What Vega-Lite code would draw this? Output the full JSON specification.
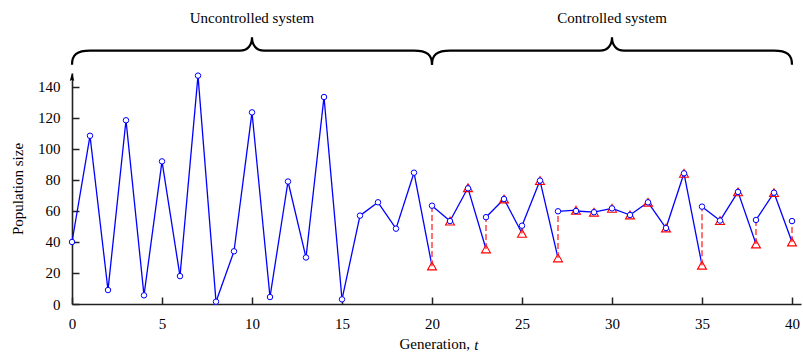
{
  "$schema": "https://vega.github.io/schema/vega-lite/v6.json",
  "width": 729,
  "height": 231,
  "autosize": {"type": "none"},
  "padding": {"left": 72, "top": 73, "right": 2, "bottom": 49},
  "background": "white",
  "config": {
    "view": {"stroke": null},
    "font": "Liberation Serif",
    "axis": {
      "grid": false,
      "domainColor": "#222222",
      "domainWidth": 1.6,
      "tickColor": "#222222",
      "tickWidth": 1.5,
      "tickSize": -7,
      "labelFont": "Liberation Serif",
      "labelFontSize": 15,
      "labelColor": "#000000",
      "labelOverlap": false,
      "labelSeparation": -40,
      "titleFont": "Liberation Serif",
      "titleFontSize": 15,
      "titleFontWeight": "normal",
      "titleColor": "#000000"
    },
    "axisX": {"labelPadding": 19, "titlePadding": 5, "labelFlush": false},
    "axisY": {"labelPadding": 19, "titlePadding": 12}
  },
  "datasets": {
    "pop": [
      {"t": 0, "post": 40, "pre": 40},
      {"t": 1, "post": 108.5, "pre": 108.5},
      {"t": 2, "post": 9, "pre": 9},
      {"t": 3, "post": 118.5, "pre": 118.5},
      {"t": 4, "post": 5.6, "pre": 5.6},
      {"t": 5, "post": 92, "pre": 92},
      {"t": 6, "post": 18, "pre": 18},
      {"t": 7, "post": 147.3, "pre": 147.3},
      {"t": 8, "post": 1.5, "pre": 1.5},
      {"t": 9, "post": 34, "pre": 34},
      {"t": 10, "post": 123.6, "pre": 123.6},
      {"t": 11, "post": 4.5, "pre": 4.5},
      {"t": 12, "post": 79, "pre": 79},
      {"t": 13, "post": 30, "pre": 30},
      {"t": 14, "post": 133.5, "pre": 133.5},
      {"t": 15, "post": 3, "pre": 3},
      {"t": 16, "post": 57, "pre": 57},
      {"t": 17, "post": 65.6, "pre": 65.6},
      {"t": 18, "post": 48.6, "pre": 48.6},
      {"t": 19, "post": 84.7, "pre": 84.7},
      {"t": 20, "post": 63.4, "pre": 24.5},
      {"t": 21, "post": 53.5, "pre": 53.5},
      {"t": 22, "post": 74.6, "pre": 75},
      {"t": 23, "post": 56, "pre": 35.5},
      {"t": 24, "post": 67.7, "pre": 67.7},
      {"t": 25, "post": 50.5, "pre": 45.6},
      {"t": 26, "post": 79.6, "pre": 79.6},
      {"t": 27, "post": 59.8, "pre": 29.7},
      {"t": 28, "post": 60, "pre": 60.5},
      {"t": 29, "post": 59.2, "pre": 59.2},
      {"t": 30, "post": 61.7, "pre": 61.7},
      {"t": 31, "post": 57.4, "pre": 57.4},
      {"t": 32, "post": 65.6, "pre": 65.6},
      {"t": 33, "post": 49, "pre": 49},
      {"t": 34, "post": 84.3, "pre": 84.3},
      {"t": 35, "post": 62.8, "pre": 25},
      {"t": 36, "post": 53.8, "pre": 53.8},
      {"t": 37, "post": 72.3, "pre": 72.3},
      {"t": 38, "post": 54.2, "pre": 38.7},
      {"t": 39, "post": 71.8, "pre": 71.8},
      {"t": 40, "post": 53.5, "pre": 40}
    ],
    "notes": [
      {"t": 10, "label": "Uncontrolled system"},
      {"t": 30, "label": "Controlled system"}
    ],
    "axisnote": [
      {"t": 22.35, "label": "t"}
    ],
    "arrow": [
      {"t": 0}
    ]
  },
  "layer": [
    {
      "data": {"name": "pop"},
      "transform": [
        {"window": [{"op": "lead", "field": "t", "as": "t_next"}, {"op": "lead", "field": "pre", "as": "pre_next"}], "sort": [{"field": "t", "order": "ascending"}]},
        {"filter": "isValid(datum.t_next)"}
      ],
      "mark": {"type": "rule", "color": "#0000ff", "strokeWidth": 1.3},
      "encoding": {
        "x": {"field": "t", "type": "quantitative", "title": "Generation,", "scale": {"domain": [0, 40.5], "nice": false, "zero": false},
          "axis": {"values": [0, 5, 10, 15, 20, 25, 30, 35, 40], "labelOverlap": false, "titleAnchor": "start", "titleAlign": "left", "titleX": 327}},
        "y": {"field": "post", "type": "quantitative", "title": "Population size", "scale": {"domain": [0, 149], "nice": false},
          "axis": {"values": [0, 20, 40, 60, 80, 100, 120, 140], "tickCount": 8, "labelOverlap": false, "labelSeparation": -40}},
        "x2": {"field": "t_next"},
        "y2": {"field": "pre_next"}
      }
    },
    {
      "data": {"name": "pop"},
      "transform": [{"filter": "datum.t >= 20"}],
      "mark": {"type": "rule", "color": "#ff7070", "strokeWidth": 2, "strokeDash": [6, 3]},
      "encoding": {
        "x": {"field": "t", "type": "quantitative", "title": "Generation,"},
        "y": {"field": "pre", "type": "quantitative", "title": "Population size"},
        "y2": {"field": "post"}
      }
    },
    {
      "data": {"name": "pop"},
      "transform": [{"filter": "datum.t >= 20"}],
      "mark": {"type": "point", "shape": "triangle-up", "size": 80, "filled": false, "color": "#ff0000", "strokeWidth": 1.1, "opacity": 1},
      "encoding": {
        "x": {"field": "t", "type": "quantitative", "title": "Generation,"},
        "y": {"field": "pre", "type": "quantitative", "title": "Population size"}
      }
    },
    {
      "data": {"name": "pop"},
      "mark": {"type": "point", "shape": "circle", "size": 30, "filled": false, "fill": "white", "fillOpacity": 1, "color": "#0000ff", "strokeWidth": 1, "opacity": 1},
      "encoding": {
        "x": {"field": "t", "type": "quantitative", "title": "Generation,"},
        "y": {"field": "post", "type": "quantitative", "title": "Population size"}
      }
    },
    {
      "data": {"name": "notes"},
      "mark": {"type": "point", "shape": "M -1 0.078 C -1 0.022 -0.972 0 -0.9 0 L -0.067 0 C -0.022 0 0 -0.033 0 -0.075 C 0 -0.033 0.022 0 0.067 0 L 0.9 0 C 0.972 0 1 0.022 1 0.078", "size": 129600, "filled": false, "color": "#000000", "strokeWidth": 2.2, "opacity": 1},
      "encoding": {
        "x": {"field": "t", "type": "quantitative", "title": "Generation,"},
        "y": {"datum": 163.4, "type": "quantitative", "title": "Population size"}
      }
    },
    {
      "data": {"name": "notes"},
      "mark": {"type": "text", "fontSize": 15, "font": "Liberation Serif", "baseline": "middle", "align": "center", "color": "#000000"},
      "encoding": {
        "x": {"field": "t", "type": "quantitative", "title": "Generation,"},
        "y": {"datum": 184.7, "type": "quantitative", "title": "Population size"},
        "text": {"field": "label"}
      }
    },
    {
      "data": {"name": "axisnote"},
      "mark": {"type": "text", "fontSize": 15, "font": "Liberation Serif", "fontStyle": "italic", "baseline": "alphabetic", "align": "left", "color": "#000000"},
      "encoding": {
        "x": {"field": "t", "type": "quantitative", "title": "Generation,"},
        "y": {"datum": -29.5, "type": "quantitative", "title": "Population size"},
        "text": {"field": "label"}
      }
    },
    {
      "data": {"name": "arrow"},
      "mark": {"type": "point", "shape": "M 0 -1 L -0.45 0.6 L 0 0.35 L 0.45 0.6 Z", "size": 100, "filled": true, "color": "#000000", "opacity": 1},
      "encoding": {
        "x": {"field": "t", "type": "quantitative", "title": "Generation,"},
        "y": {"datum": 145.8, "type": "quantitative", "title": "Population size"}
      }
    }
  ]
}
